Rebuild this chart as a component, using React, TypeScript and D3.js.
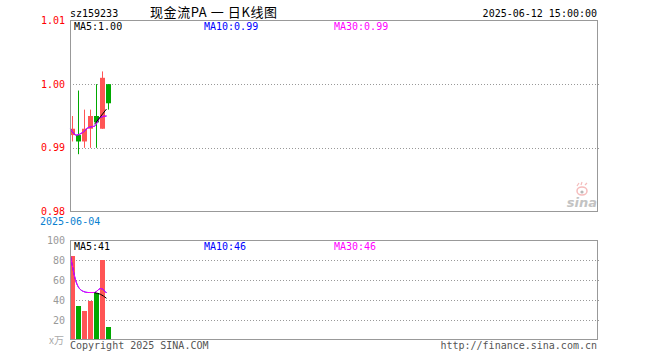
import React from "react";
import * as d3 from "d3";

const code = "sz159233";
const title = "现金流PA 一 日K线图";
const stamp = "2025-06-12 15:00:00";
const firstDate = "2025-06-04";

const opens = [0.992, 0.992, 0.991, 0.993, 0.995, 0.993, 1.0];
const closes = [0.993, 0.991, 0.993, 0.995, 0.994, 1.001, 0.997];
const highs = [0.995, 0.999, 0.996, 0.996, 1.0, 1.002, 1.0];
const lows = [0.991, 0.989, 0.99, 0.99, 0.99, 0.993, 0.996];

const ma5Price: (number | null)[] = [null, null, null, null, 0.9937, 0.9949, 0.9961];
const ma10Price: (number | null)[] = [0.993, 0.992, 0.9924, 0.9932, 0.9934, 0.9948, 0.995];
const ma30Price: (number | null)[] = [0.993, 0.992, 0.9924, 0.9932, 0.9934, 0.9948, 0.995];

const volumes = [84, 34, 29, 39, 47, 80, 13];
const ma5Vol: (number | null)[] = [null, null, null, null, 47.3, 45.7, 41.7];
const ma10Vol: (number | null)[] = [84, 57, 49, 47.5, 47.5, 51.5, 47];
const ma30Vol: (number | null)[] = [84, 57, 49, 47.5, 47.5, 51.5, 47];

const priceTicks = [1.01, 1.0, 0.99, 0.98];
const priceGrid = [1.0, 0.99];
const volTicks = [100, 80, 60, 40, 20];
const volGrid = [80, 60, 40, 20];

const priceLegend = ["MA5:1.00", "MA10:0.99", "MA30:0.99"];
const volLegend = ["MA5:41", "MA10:46", "MA30:46"];

const RED = "#ff5555";
const GREEN = "#00a800";
const MONO = "'DejaVu Sans Mono', 'Liberation Mono', monospace";

export default function App() {
  const W = 660, H = 360;
  const L = 70, R = 597;
  const pTop = 20, pBot = 211;
  const vTop = 240, vBot = 339;

  const x = d3.scaleLinear().domain([0, 88]).range([L, L + 528]);
  const yP = d3.scaleLinear().domain([0.98, 1.01]).range([pBot + 0.5, pTop + 0.5]);
  const yV = d3.scaleLinear().domain([0, 100]).range([vBot + 1, vTop]);
  const bw = 5;

  const mkLine = (ys: d3.ScaleLinear<number, number>, curve: d3.CurveFactory) =>
    d3
      .line<number | null>()
      .defined((d) => d != null)
      .x((_, i) => x(i) + 0.5)
      .y((d) => ys(d as number))
      .curve(curve);

  const pLine = mkLine(yP, d3.curveMonotoneX);
  const vLine = mkLine(yV, d3.curveMonotoneX);

  const legendX = [74, 204, 334];
  const legendColors = ["#000000", "#0000ff", "#ff00ff"];

  return (
    <svg width={W} height={H} style={{ position: "absolute", left: 0, top: 0, background: "#fff" }}>
      <rect x={0} y={0} width={W} height={H} fill="#fff" />
      {/* header */}
      <text x={L} y={17} fontFamily={MONO} fontSize={10} fill="#000">{code}</text>
      <text x={150} y={17} fontFamily="'Noto Sans CJK SC', sans-serif" fontSize={13} textLength={127} lengthAdjust="spacing" fill="#000" style={{ whiteSpace: "pre" }}>{title}</text>
      <text x={R} y={17} fontFamily={MONO} fontSize={10} textAnchor="end" fill="#000">{stamp}</text>

      {/* price grid */}
      {priceGrid.map((t) => (
        <line key={t} x1={L} x2={R + 2} y1={Math.round(yP(t)) + 0.5} y2={Math.round(yP(t)) + 0.5} stroke="#999" strokeDasharray="1,2" />
      ))}
      {priceTicks.map((t) => (
        <text key={t} x={65} y={yP(t) + 3.5} fontFamily={MONO} fontSize={10} textAnchor="end" fill="#ff0000">{t.toFixed(2)}</text>
      ))}
      <text x={40} y={225} fontFamily={MONO} fontSize={10} fill="#0a7fd0">{firstDate}</text>

      {/* sina logo */}
      <g opacity={0.7}>
        <ellipse cx={582} cy={191} rx={5} ry={4} fill="none" stroke="#f2a0a0" strokeWidth={1.5} />
        <circle cx={582} cy={192} r={1.6} fill="#999" />
        <path d="M577,186 L579,183 M581,185 L582,182 M585,185 L587,183" stroke="#f2a0a0" strokeWidth={1.2} />
        <text x={597} y={207} fontFamily="'DejaVu Sans', sans-serif" fontStyle="italic" fontWeight="bold" fontSize={13} textAnchor="end" fill="#aaa">sina</text>
      </g>

      {/* candles */}
      {opens.map((o, i) => {
        const c = closes[i];
        const up = c >= o;
        const col = up ? RED : GREEN;
        const x0 = x(i);
        const top = yP(Math.max(o, c));
        const bot = yP(Math.min(o, c));
        return (
          <g key={i}>
            <line x1={x0 + 2.5} x2={x0 + 2.5} y1={yP(highs[i])} y2={yP(lows[i])} stroke={col} strokeWidth={1} />
            <rect x={x0} y={top} width={bw} height={Math.max(1, bot - top)} fill={col} />
          </g>
        );
      })}
      <path d={pLine(ma10Price) || ""} fill="none" stroke="#0000ff" strokeWidth={1} />
      <path d={pLine(ma30Price) || ""} fill="none" stroke="#ff00ff" strokeWidth={1} />
      <path d={pLine(ma5Price) || ""} fill="none" stroke="#000" strokeWidth={1} />

      <rect x={L + 0.5} y={pTop + 0.5} width={R - L} height={pBot - pTop} fill="none" stroke="#999" />
      {priceLegend.map((s, i) => (
        <text key={s} x={legendX[i]} y={30} fontFamily={MONO} fontSize={10} fill={legendColors[i]}>{s}</text>
      ))}

      {/* volume */}
      {volGrid.map((t) => (
        <line key={t} x1={L} x2={R + 2} y1={Math.round(yV(t)) + 0.5} y2={Math.round(yV(t)) + 0.5} stroke="#999" strokeDasharray="1,2" />
      ))}
      {volTicks.map((t) => (
        <text key={t} x={65} y={yV(t) + 3.5} fontFamily={MONO} fontSize={10} textAnchor="end" fill="#999">{t}</text>
      ))}
      <text x={64} y={344} fontFamily="'Noto Sans CJK SC', sans-serif" fontSize={10} textAnchor="end" fill="#aaa">x万</text>
      {volumes.map((v, i) => {
        const up = closes[i] >= opens[i];
        return <rect key={i} x={x(i)} y={yV(v)} width={bw} height={yV(0) - yV(v)} fill={up ? RED : GREEN} />;
      })}
      <path d={vLine(ma10Vol) || ""} fill="none" stroke="#0000ff" strokeWidth={1} />
      <path d={vLine(ma30Vol) || ""} fill="none" stroke="#ff00ff" strokeWidth={1} />
      <path d={vLine(ma5Vol) || ""} fill="none" stroke="#000" strokeWidth={1} />
      <rect x={L + 0.5} y={vTop + 0.5} width={R - L} height={vBot - vTop} fill="none" stroke="#999" />
      {volLegend.map((s, i) => (
        <text key={s} x={legendX[i]} y={250} fontFamily={MONO} fontSize={10} fill={legendColors[i]}>{s}</text>
      ))}

      {/* footer */}
      <text x={L} y={349} fontFamily={MONO} fontSize={10} fill="#555">Copyright 2025 SINA.COM</text>
      <text x={R} y={349} fontFamily={MONO} fontSize={10} textAnchor="end" fill="#555">http://finance.sina.com.cn</text>
    </svg>
  );
}
